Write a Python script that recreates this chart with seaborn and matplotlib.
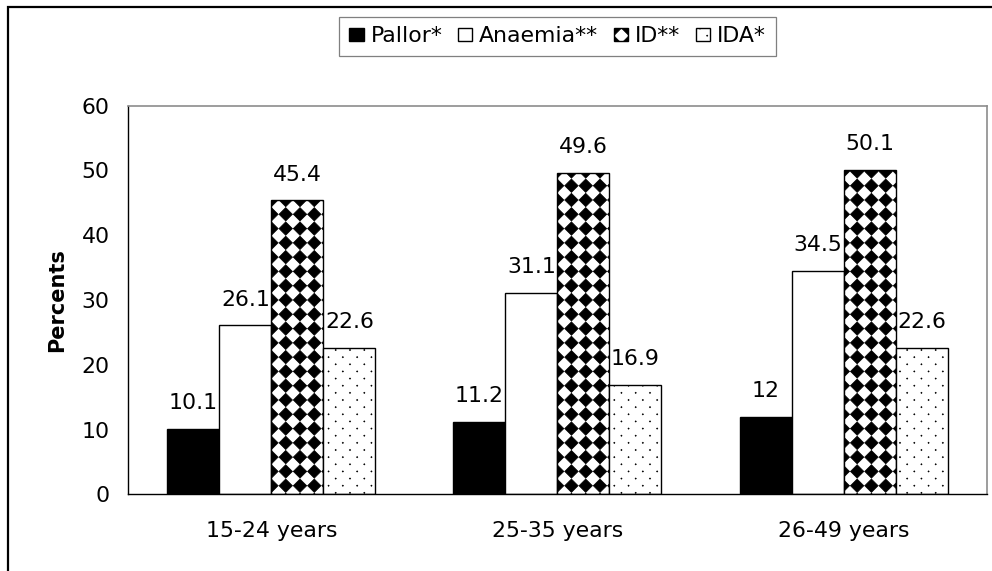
import numpy as np
import pandas as pd
import matplotlib
matplotlib.use("Agg")
import matplotlib.pyplot as plt
import matplotlib.hatch as mhatch
from matplotlib.path import Path
from matplotlib.patches import Rectangle
from matplotlib.ticker import FixedLocator
import seaborn as sns

# --- data ---
age_groups = ["15-24 years", "25-35 years", "26-49 years"]
measures = ["Pallor*", "Anaemia**", "ID**", "IDA*"]
pallor = [10.1, 11.2, 12]
anaemia = [26.1, 31.1, 34.5]
iron_def = [45.4, 49.6, 50.1]
ida = [22.6, 16.9, 22.6]
y_ticks = [0, 10, 20, 30, 40, 50, 60]

df = pd.DataFrame({
    "age": age_groups * 4,
    "measure": np.repeat(measures, 3),
    "pct": pallor + anaemia + iron_def + ida,
})

fill_colors = {"Pallor*": "black", "Anaemia**": "white", "ID**": "white", "IDA*": "white"}
hatch_of = {"Pallor*": "", "Anaemia**": "", "ID**": "*", "IDA*": "."}


# --- custom hatches: diamond grid for '*', small staggered dots for '.' ---
def _diamonds(centres, h):
    shape = np.array([[0, -h], [h, 0], [0, h], [-h, 0], [0, -h]])
    verts = (centres[:, None, :] + shape[None, :, :]).reshape(-1, 2)
    codes = np.tile([Path.MOVETO, Path.LINETO, Path.LINETO, Path.LINETO, Path.CLOSEPOLY],
                    len(centres))
    return verts, codes


class DiamondGrid(mhatch.HatchPatternBase):
    def __init__(self, hatch, density):
        n = hatch.count("*") * (density + 1)
        self.verts, self.codes = np.empty((0, 2)), np.empty(0)
        if n:
            g = np.arange(n + 1) / n
            cx, cy = np.meshgrid(g, g)
            centres = np.column_stack([cx.ravel(), cy.ravel()])
            self.verts, self.codes = _diamonds(centres, 0.47 / n)
        self.num_vertices = len(self.verts)

    def set_vertices_and_codes(self, vertices, codes):
        vertices[:] = self.verts
        codes[:] = self.codes


class DotGrid(mhatch.HatchPatternBase):
    def __init__(self, hatch, density):
        n = hatch.count(".") * (density + 1)
        self.verts, self.codes = np.empty((0, 2)), np.empty(0)
        if n:
            pts = []
            for r in range(2 * n + 1):
                y = r / (2 * n)
                xs = np.arange(n + 1) / n if r % 2 == 0 else (np.arange(n) + 0.5) / n
                pts += [(x, y) for x in xs]
            self.verts, self.codes = _diamonds(np.array(pts), 0.006)
        self.num_vertices = len(self.verts)

    def set_vertices_and_codes(self, vertices, codes):
        vertices[:] = self.verts
        codes[:] = self.codes


mhatch._hatch_types = [t for t in mhatch._hatch_types
                       if t not in (mhatch.Stars, mhatch.SmallFilledCircles)] + [DiamondGrid, DotGrid]

# --- style ---
sns.set_style("white")
plt.rcParams["font.family"] = ["DejaVu Sans"]
plt.rcParams["hatch.linewidth"] = 0.5
for key in ["text.color", "axes.labelcolor", "xtick.color", "ytick.color"]:
    plt.rcParams[key] = "black"
FS = 15.8

fig = plt.figure(figsize=(9.92, 5.71), dpi=100)
ax = fig.add_axes([0.1293, 0.1343, 0.8653, 0.6806])

sns.barplot(data=df, x="age", y="pct", hue="measure", hue_order=measures,
            palette=fill_colors, saturation=1, width=0.727, errorbar=None,
            edgecolor="black", linewidth=1.0, legend=False, ax=ax)

for cont, m in zip(ax.containers, measures):
    for bar in cont:
        bar.set_hatch(hatch_of[m])
    ax.bar_label(cont, fmt="%g", padding=11.3, fontsize=FS, color="black")

ax.set_ylim(0, 60)
ax.set_yticks(y_ticks)
ax.set_xlim(-0.5, 2.5)
ax.set_xlabel("")
ax.set_ylabel("Percents", fontsize=15, fontweight="bold", color="black")
ax.yaxis.set_label_coords(-0.071, 0.5)

ax.tick_params(axis="y", length=5.8, width=1, direction="out", pad=7.5, labelsize=FS,
               color="black", labelcolor="black")
ax.tick_params(axis="x", which="major", length=0, pad=19, labelsize=FS, labelcolor="black")
ax.xaxis.set_minor_locator(FixedLocator([-0.5, 0.5, 1.5, 2.5]))
ax.tick_params(axis="x", which="minor", length=5.8, width=1, direction="out", color="black")

for side in ["left", "bottom"]:
    ax.spines[side].set_color("black")
    ax.spines[side].set_linewidth(1.0)
for side in ["top", "right"]:
    ax.spines[side].set_color("#8c8c8c")
    ax.spines[side].set_linewidth(1.2)

leg = ax.legend(ax.containers, measures, ncol=4, loc="center",
                bbox_to_anchor=(557.5 / 992, 1 - 36.5 / 571), bbox_transform=fig.transFigure,
                fontsize=FS, frameon=True, fancybox=False, shadow=False,
                handlelength=0.65, handleheight=0.55, handletextpad=0.32,
                columnspacing=0.7, borderpad=0.45, borderaxespad=0)
leg.get_frame().set_edgecolor("#606060")
leg.get_frame().set_linewidth(0.9)
for t in leg.get_texts():
    t.set_color("black")

# outer chart border (cut off at right and bottom in the original)
fig.patches.append(Rectangle((0.008, -0.05), 1.1, 0.9877 + 0.05, transform=fig.transFigure,
                             fill=False, edgecolor="black", linewidth=1.6))

fig.savefig("out.png", dpi=100)
